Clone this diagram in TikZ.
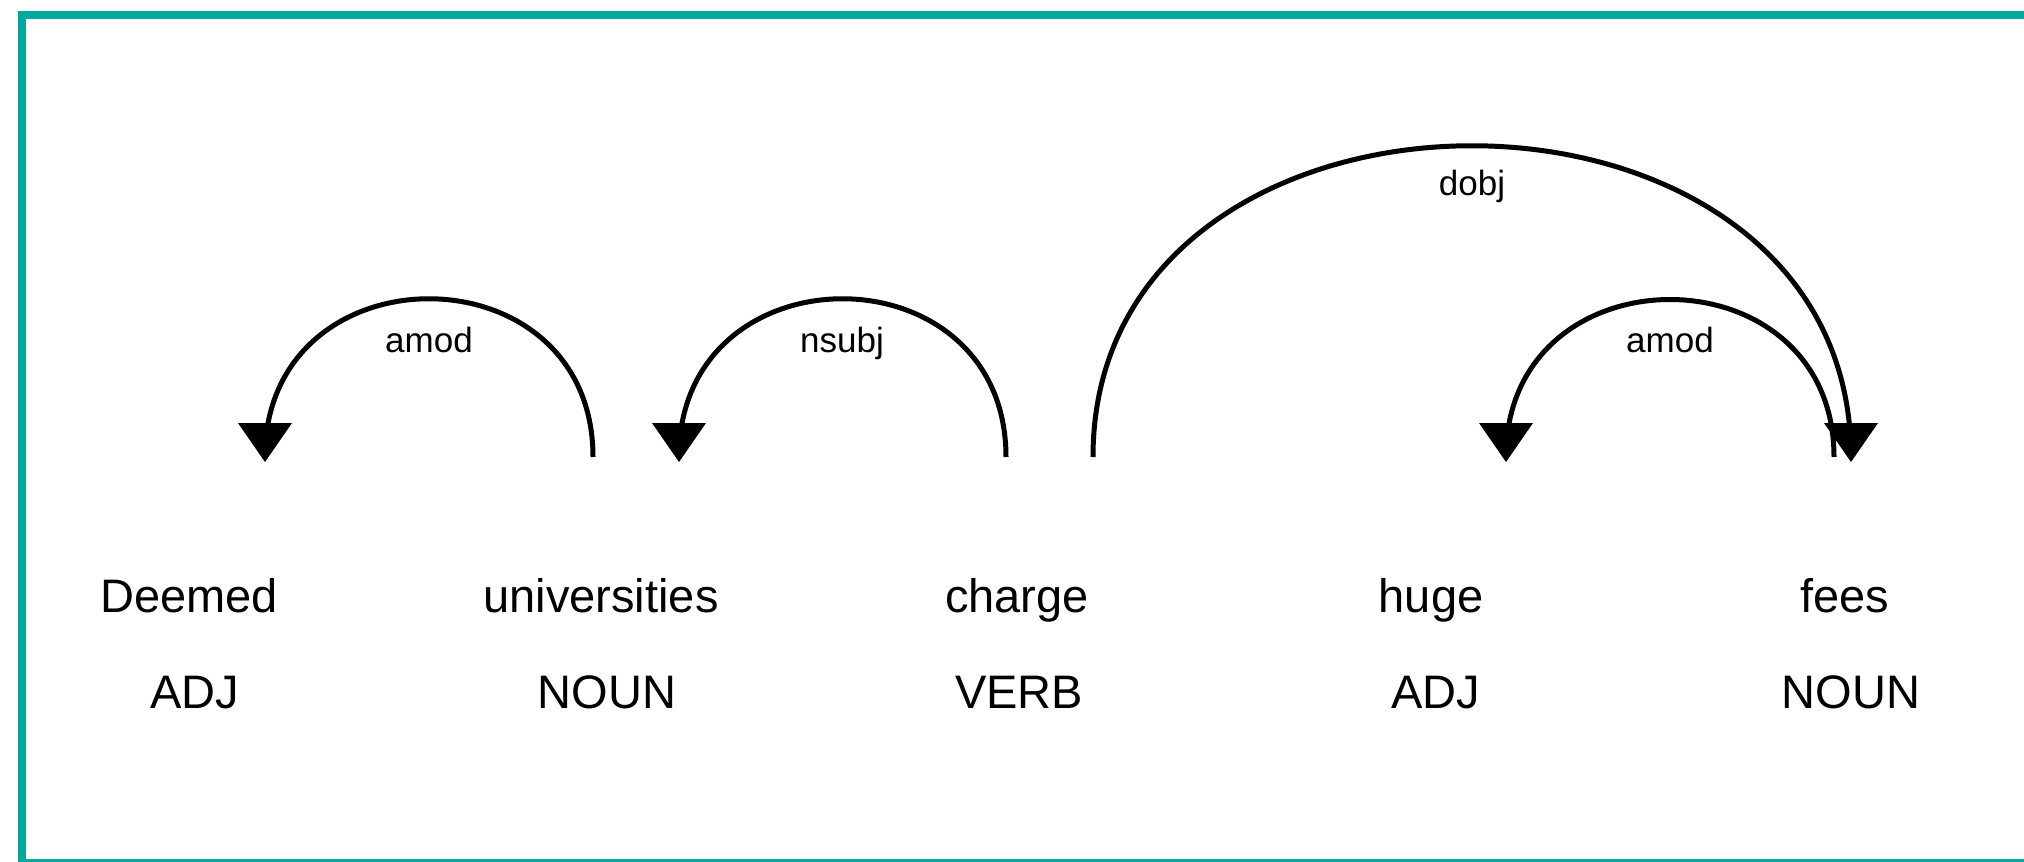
\documentclass[tikz,border=0pt]{standalone}
\usepackage{fontspec}
\setmainfont{Liberation Sans}
\usetikzlibrary{calc}
\definecolor{framecol}{RGB}{0,168,157}
\begin{document}
\begin{tikzpicture}[x=0.5pt,y=-0.5pt,
  word/.style={anchor=base, inner sep=0pt, font=\fontsize{23.5}{28}\selectfont},
  tag/.style={anchor=base, inner sep=0pt, font=\fontsize{23.5}{28}\selectfont},
  lbl/.style={anchor=base, inner sep=0pt, font=\fontsize{17.5}{20}\selectfont},
  arcline/.style={line width=2.5pt},
  headfill/.style={fill=black}]
\useasboundingbox (0,0) rectangle (2024,862);
\begin{scope}
\clip (0,0) rectangle (2024,862);
\draw[framecol, line width=4pt] (22,15) rectangle (2060,863);
\end{scope}
% words
\node[word] (w1) at (189,612) {Deemed};
\node[word] (w2) at (601,612) {universities};
\node[word] (w3) at (1017,612) {charge};
\node[word] (w4) at (1431,612) {huge};
\node[word] (w5) at (1845,612) {fees};
% tags
\node[tag] (t1) at (195,708) {ADJ};
\node[tag] (t2) at (607,708) {NOUN};
\node[tag] (t3) at (1019,708) {VERB};
\node[tag] (t4) at (1436,708) {ADJ};
\node[tag] (t5) at (1851,708) {NOUN};
% arc endpoints
\coordinate (a1s) at (593,457); \coordinate (a1e) at (265,457);
\coordinate (a2s) at (1006,457); \coordinate (a2e) at (679,457);
\coordinate (a3s) at (1093,457); \coordinate (a3e) at (1851,457);
\coordinate (a4s) at (1834,457); \coordinate (a4e) at (1506,457);
% arcs
\draw[arcline] (a1s) .. controls ($(a1s)+(0,-211)$) and ($(a1e)+(0,-211)$) .. (a1e);
\draw[arcline] (a2s) .. controls ($(a2s)+(0,-211)$) and ($(a2e)+(0,-211)$) .. (a2e);
\draw[arcline] (a3s) .. controls ($(a3s)+(0,-415)$) and ($(a3e)+(0,-415)$) .. (a3e);
\draw[arcline] (a4s) .. controls ($(a4s)+(0,-210)$) and ($(a4e)+(0,-210)$) .. (a4e);
% arrowheads
\foreach \p in {a1e,a2e,a3e,a4e}{
  \fill[headfill] ($(\p)+(0,5)$) -- ($(\p)+(-27,-34)$) -- ($(\p)+(27,-34)$) -- cycle;
}
% labels
\node[lbl] (l1) at (429,352) {amod};
\node[lbl] (l2) at (842,352) {nsubj};
\node[lbl] (l3) at (1472,195) {dobj};
\node[lbl] (l4) at (1670,352) {amod};
\end{tikzpicture}
\end{document}
